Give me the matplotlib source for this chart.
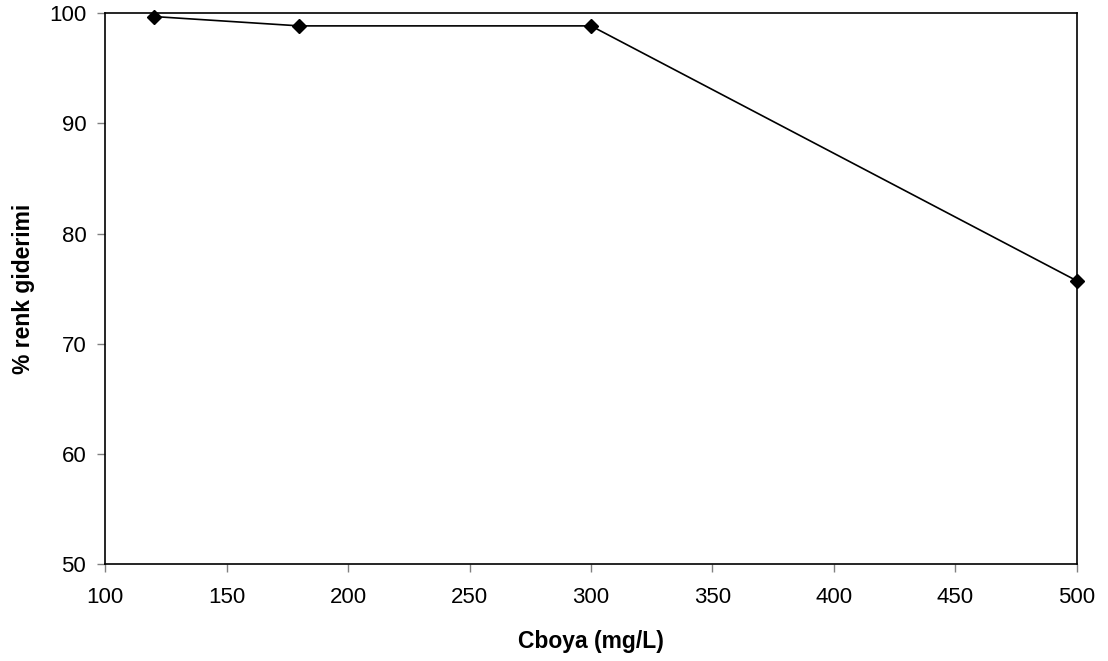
import matplotlib
matplotlib.use("Agg")
import matplotlib.pyplot as plt

plt.rcParams["font.family"] = ["Liberation Sans", "DejaVu Sans"]

cboya = [120, 180, 300, 500]
renk_giderimi = [99.7, 98.85, 98.85, 75.7]

fig = plt.figure(figsize=(11.08, 6.61), dpi=100)
ax = fig.add_axes([0.0948, 0.1468, 0.8772, 0.8332])

ax.plot(cboya, renk_giderimi, color="black", linewidth=1.2,
        marker="D", markersize=7, clip_on=False)

ax.set_xlim(100, 500)
ax.set_ylim(50, 100)
ax.set_xticks(range(100, 501, 50))
ax.set_yticks(range(50, 101, 10))
ax.tick_params(direction="out", length=5.5, width=1, color="#808080",
               labelsize=16)
ax.tick_params(axis="x", pad=11)
ax.tick_params(axis="y", pad=8)
for s in ax.spines.values():
    s.set_linewidth(1.2)

ax.set_xlabel("Cboya (mg/L)", fontsize=16.5, fontweight="bold", labelpad=16)
ax.set_ylabel("% renk giderimi", fontsize=16.5, fontweight="bold", labelpad=10)

fig.savefig("out.png", dpi=100)
